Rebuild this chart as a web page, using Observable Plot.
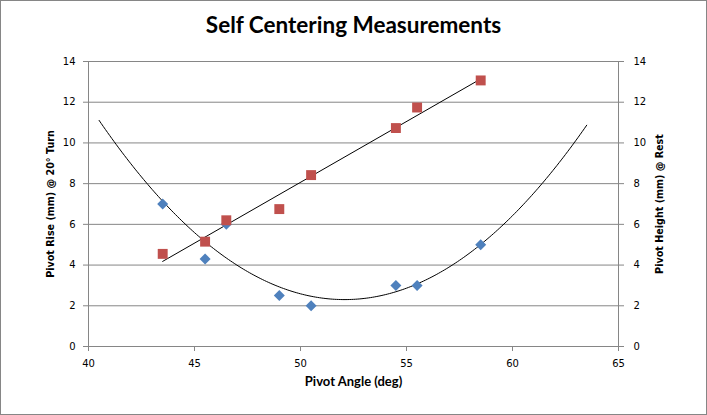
<!DOCTYPE html>
<html><head><meta charset="utf-8">
<script src="https://cdn.jsdelivr.net/npm/d3@7"></script>
<script src="https://cdn.jsdelivr.net/npm/@observablehq/plot@0.6"></script>
<style>
body{margin:0;background:#fff}
#wrap{position:relative;width:707px;height:415px}
#border{position:absolute;left:0;top:0;width:707px;height:415px;box-sizing:border-box;border:1px solid #868686;pointer-events:none}
</style>
</head><body><div id="wrap"><div id="border"></div></div>
<script>
const angles = [43.5, 45.5, 46.5, 49, 50.5, 54.5, 55.5, 58.5];
const pivotRise = [7.0, 4.3, 6.0, 2.5, 2.0, 3.0, 3.0, 5.0];
const pivotHeight = [4.55, 5.15, 6.2, 6.75, 8.42, 10.73, 11.74, 13.07];
const xTicks = [40, 45, 50, 55, 60, 65];
const yTicks = [0, 2, 4, 6, 8, 10, 12, 14];
const title = "Self Centering Measurements";
const xTitle = "Pivot Angle (deg)";
const yLeftTitle = "Pivot Rise (mm) @ 20° Turn";
const yRightTitle = "Pivot Height (mm) @ Rest";

const rise = angles.map((x, i) => ({x, y: pivotRise[i]}));
const height = angles.map((x, i) => ({x, y: pivotHeight[i]}));

// Quadratic (order 2) polynomial trendline by least squares, forecast -3 / +5 like the source
function polyfit2(pts) {
  let S = [0,0,0,0,0], T = [0,0,0];
  for (const {x, y} of pts) {
    for (let k = 0; k < 5; k++) S[k] += x ** k;
    for (let k = 0; k < 3; k++) T[k] += y * x ** k;
  }
  const M = [[S[0],S[1],S[2],T[0]],[S[1],S[2],S[3],T[1]],[S[2],S[3],S[4],T[2]]];
  for (let i = 0; i < 3; i++) {
    for (let j = i + 1; j < 3; j++) {
      const f = M[j][i] / M[i][i];
      for (let k = i; k < 4; k++) M[j][k] -= f * M[i][k];
    }
  }
  const c = [0,0,0];
  for (let i = 2; i >= 0; i--) {
    let s = M[i][3];
    for (let k = i + 1; k < 3; k++) s -= M[i][k] * c[k];
    c[i] = s / M[i][i];
  }
  return c;
}
const coef = polyfit2(rise);
const x0 = d3.min(angles) - 3, x1 = d3.max(angles) + 5;
const curve = d3.range(x0, x1 + 1e-9, 0.1).map(x => ({x, y: coef[0] + coef[1] * x + coef[2] * x * x}));

const chart = Plot.plot({
  width: 707,
  height: 415,
  marginLeft: 88,
  marginRight: 89,
  marginTop: 61,
  marginBottom: 69,
  style: {fontFamily: "DejaVu Sans", fontSize: "10px", color: "black", background: "white"},
  x: {domain: [40, 65]},
  y: {domain: [0, 14]},
  marks: [
    Plot.ruleY(yTicks, {stroke: "#868686"}),
    Plot.ruleX([40, 65], {stroke: "#868686"}),
    Plot.axisX({ticks: xTicks, tickSize: 5, tickPadding: 8, stroke: "#868686", fill: "black", label: null}),
    Plot.axisY({anchor: "left", ticks: yTicks, tickSize: 5, tickPadding: 8, stroke: "#868686", fill: "black", label: null}),
    Plot.axisY({anchor: "right", ticks: yTicks, tickSize: 5, tickPadding: 10, stroke: "#868686", fill: "black", label: null}),
    Plot.line(curve, {x: "x", y: "y", stroke: "black", strokeWidth: 1}),
    Plot.linearRegressionY(height, {x: "x", y: "y", stroke: "black", strokeWidth: 1, ci: 0}),
    Plot.dot(rise, {x: "x", y: "y", symbol: "diamond2", r: 4.95, fill: "#4F81BD", stroke: "none"}),
    Plot.dot(height, {x: "x", y: "y", symbol: "square", r: 5.6, fill: "#C0504D", stroke: "none"}),
    Plot.text([title], {frameAnchor: "top", dy: -44, text: d => d, fontFamily: "Lato", fontWeight: "bold", fontSize: 22.5}),
    Plot.text([xTitle], {frameAnchor: "bottom", dy: 39, text: d => d, fontFamily: "Lato", fontWeight: "bold", fontSize: 13}),
    Plot.text([yLeftTitle], {frameAnchor: "left", textAnchor: "middle", dx: -38, rotate: -90, text: d => d, fontFamily: "DejaVu Sans", fontWeight: "bold", fontSize: 9.6}),
    Plot.text([yRightTitle], {frameAnchor: "right", textAnchor: "middle", dx: 41, rotate: -90, text: d => d, fontFamily: "DejaVu Sans", fontWeight: "bold", fontSize: 9.6})
  ]
});
document.getElementById("wrap").prepend(chart);
</script>
</body></html>
